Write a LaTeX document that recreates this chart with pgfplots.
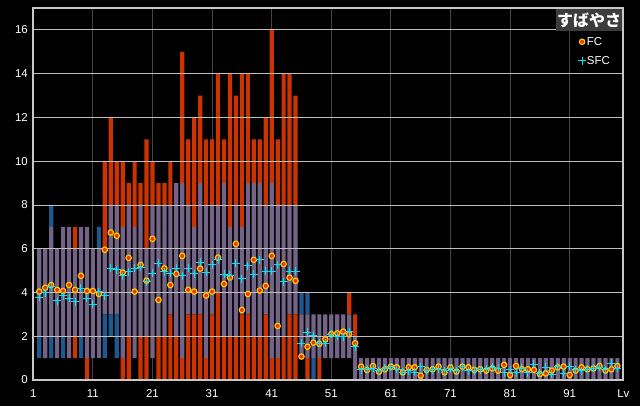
\documentclass[border=0pt]{standalone}
\usepackage{pgfplots}
\pgfplotsset{compat=1.18}
\usepackage{pgfplotstable}
\usepackage{fontspec}
\setmainfont{Liberation Sans}
\newfontfamily\jp{Noto Sans CJK JP}
\definecolor{cRed}{RGB}{204,51,0}
\definecolor{cPurp}{RGB}{115,100,135}
\definecolor{cBlue}{RGB}{30,88,142}
\definecolor{cHGrid}{RGB}{190,190,190}
\definecolor{cVGrid}{RGB}{68,68,68}
\definecolor{cFrame}{RGB}{200,200,200}
\definecolor{cFCfill}{RGB}{235,50,0}
\definecolor{cFCedge}{RGB}{255,200,0}
\definecolor{cSFC}{RGB}{0,230,255}
\definecolor{cTitle}{RGB}{60,60,60}

\pgfplotstableread{
lv base bB bR P tR tB
2 1 1 0 4 0 0
3 1 0 0 5 0 0
4 1 1 0 5 0 1
5 1 0 0 5 0 0
6 1 1 0 5 0 0
7 1 0 0 6 0 0
8 1 0 1 4 1 0
9 1 1 0 5 0 0
10 0 0 1 6 0 0
11 1 0 0 5 0 0
12 1 0 0 5 0 1
13 1 2 0 3 4 0
14 2 1 0 5 4 0
15 1 2 0 5 2 0
16 0 0 1 6 3 0
17 0 0 2 6 1 0
18 1 0 0 6 3 0
19 0 0 2 6 1 0
20 0 0 2 4 5 0
21 1 0 0 7 2 0
22 0 0 2 6 1 0
23 0 0 2 6 1 0
24 0 0 3 5 2 0
25 0 0 2 7 0 0
26 0 0 1 8 6 0
27 0 0 3 5 3 0
28 0 0 3 4 5 0
29 0 0 3 6 4 0
30 0 0 1 7 3 0
31 0 0 3 5 3 0
32 0 0 4 4 6 0
33 0 0 2 7 2 0
34 0 0 2 5 7 0
35 0 0 2 6 5 0
36 0 0 3 4 7 0
37 0 0 3 6 5 0
38 0 0 2 7 2 0
39 0 0 2 7 2 0
40 0 0 3 5 4 0
41 0 0 1 8 7 0
42 0 0 1 7 3 0
43 0 0 2 6 6 0
44 0 0 3 5 6 0
45 0 0 3 5 5 0
46 1 0 0 2 0 1
47 0 0 1 2 0 1
48 0 1 0 2 0 0
49 0 0 1 2 0 0
50 1 0 0 2 0 0
51 1 0 0 2 0 0
52 1 0 0 2 0 0
53 1 0 0 2 0 0
54 1 0 0 2 1 0
55 0 0 0 2 1 0
56 0 0 0 1 0 0
57 0 0 0 1 0 0
58 0 0 0 1 0 0
59 0 0 0 1 0 0
60 0 0 0 1 0 0
61 0 0 0 1 0 0
62 0 0 0 1 0 0
63 0 0 0 1 0 0
64 0 0 0 1 0 0
65 0 0 0 1 0 0
66 0 0 0 1 0 0
67 0 0 0 1 0 0
68 0 0 0 1 0 0
69 0 0 0 1 0 0
70 0 0 0 1 0 0
71 0 0 0 1 0 0
72 0 0 0 1 0 0
73 0 0 0 1 0 0
74 0 0 0 1 0 0
75 0 0 0 1 0 0
76 0 0 0 1 0 0
77 0 0 0 1 0 0
78 0 0 0 1 0 0
79 0 0 0 1 0 0
80 0 0 0 1 0 0
81 0 0 0 1 0 0
82 0 0 0 1 0 0
83 0 0 0 1 0 0
84 0 0 0 1 0 0
85 0 0 0 1 0 0
86 0 0 0 1 0 0
87 0 0 0 1 0 0
88 0 0 0 1 0 0
89 0 0 0 1 0 0
90 0 0 0 1 0 0
91 0 0 0 1 0 0
92 0 0 0 1 0 0
93 0 0 0 1 0 0
94 0 0 0 1 0 0
95 0 0 0 1 0 0
96 0 0 0 1 0 0
97 0 0 0 1 0 0
98 0 0 0 1 0 0
99 0 0 0 1 0 0
}\bars

\pgfplotstableread{
lv fc sfc
2 4.04 3.78
3 4.22 3.99
4 4.34 4.27
5 4.12 3.63
6 4.07 3.84
7 4.34 3.73
8 4.12 3.58
9 4.76 4.19
10 4.07 3.73
11 4.07 3.46
12 3.93 4.04
13 5.95 3.84
14 6.74 5.10
15 6.59 5.03
16 4.91 4.76
17 5.58 4.95
18 4.04 5.10
19 5.26 5.15
20 4.54 4.50
21 6.45 4.88
22 3.66 5.34
23 5.10 4.95
24 4.34 4.88
25 4.85 5.10
26 5.67 4.77
27 4.12 5.10
28 4.04 4.85
29 5.09 5.38
30 3.86 4.92
31 4.04 5.26
32 5.59 5.49
33 4.39 4.83
34 4.68 4.79
35 6.22 5.34
36 3.20 4.62
37 3.93 5.21
38 5.49 4.83
39 4.09 5.49
40 4.30 4.98
41 5.67 4.98
42 2.47 5.26
43 5.30 4.50
44 4.68 4.98
45 4.53 4.98
46 1.07 1.68
47 1.52 2.18
48 1.71 2.03
49 1.65 1.68
50 1.86 1.68
51 2.10 2.10
52 2.13 2.01
53 2.21 1.98
54 2.09 2.21
55 1.68 1.52
56 0.61 0.46
57 0.46 0.49
58 0.64 0.53
59 0.38 0.43
60 0.49 0.53
61 0.61 0.61
62 0.58 0.49
63 0.35 0.35
64 0.58 0.43
65 0.58 0.35
66 0.20 0.61
67 0.46 0.43
68 0.49 0.46
69 0.61 0.49
70 0.35 0.43
71 0.58 0.53
72 0.38 0.43
73 0.61 0.61
74 0.58 0.43
75 0.46 0.43
76 0.49 0.46
77 0.43 0.49
78 0.53 0.58
79 0.43 0.53
80 0.69 0.34
81 0.23 0.46
82 0.64 0.34
83 0.49 0.53
84 0.49 0.34
85 0.46 0.73
86 0.27 0.30
87 0.30 0.58
88 0.43 0.27
89 0.58 0.61
90 0.61 0.30
91 0.23 0.64
92 0.43 0.46
93 0.58 0.43
94 0.49 0.49
95 0.53 0.53
96 0.64 0.58
97 0.43 0.46
98 0.49 0.76
99 0.64 0.53
}\pts

\begin{document}
\begin{tikzpicture}[x=1bp,y=1bp]
\useasboundingbox (0,0) rectangle (640,406);
\fill[black] (0,0) rectangle (640,406);
\pgfplotsset{common/.style={at={(33.3bp,26bp)}, anchor=south west,
  width=590bp, height=372bp, scale only axis,
  xmin=1, xmax=100, ymin=0, ymax=17}}
% bars and vertical grid
\begin{axis}[common, ybar stacked, bar width=4.2bp,
  xtick={1,11,...,91}, xticklabels={}, ytick=\empty,
  xmajorgrids, major grid style={draw=cVGrid, line width=0.9bp},
  axis line style={draw=none}, tick style={draw=none}]
\addplot[draw=none, fill=none] table[x=lv,y=base] \bars;
\addplot[draw=none, fill=cBlue] table[x=lv,y=bB] \bars;
\addplot[draw=none, fill=cRed] table[x=lv,y=bR] \bars;
\addplot[draw=none, fill=cPurp] table[x=lv,y=P] \bars;
\addplot[draw=none, fill=cRed] table[x=lv,y=tR] \bars;
\addplot[draw=none, fill=cBlue] table[x=lv,y=tB] \bars;
\end{axis}
% frame, horizontal grid, points, legend
\begin{axis}[common,
  xtick={1,11,21,31,41,51,61,71,81,91,100},
  xticklabels={1,11,21,31,41,51,61,71,81,91,Lv},
  ytick={0,2,...,16},
  ymajorgrids, major grid style={draw=cHGrid, line width=0.8bp},
  axis line style={draw=cFrame, line width=2bp},
  tick style={draw=none},
  ticklabel style={text=white, font=\fontsize{11.5}{12}\selectfont},
  /pgf/number format/assume math mode=true,
  yticklabel style={xshift=-2bp},
  xticklabel style={yshift=-6bp},
  legend style={at={(0.918,0.93)}, anchor=north west, draw=none, fill=none,
    text=white, font=\fontsize{11.5}{12}\selectfont, row sep=8bp,
    nodes={inner sep=0.8bp}},
  legend cell align=left,
  legend image code/.code={\draw[#1] plot coordinates {(0bp,0bp)};}]
\addplot[only marks, mark=*, mark size=2.7bp,
  mark options={fill=cFCfill, draw=cFCedge, line width=1.2bp}]
  table[x=lv,y=fc] \pts;
\addlegendentry{FC}
\addplot[only marks, mark=+, mark size=4bp, cSFC, line width=1bp]
  table[x=lv,y=sfc] \pts;
\addlegendentry{SFC}
\node[fill=cTitle, text=white, anchor=north east, minimum width=66bp,
  minimum height=22bp, inner sep=0pt,
  font=\jp\bfseries\fontsize{16}{16}\selectfont]
  at ([xshift=-1bp,yshift=-1bp]rel axis cs:1,1) {すばやさ};
\end{axis}
\end{tikzpicture}
\end{document}
